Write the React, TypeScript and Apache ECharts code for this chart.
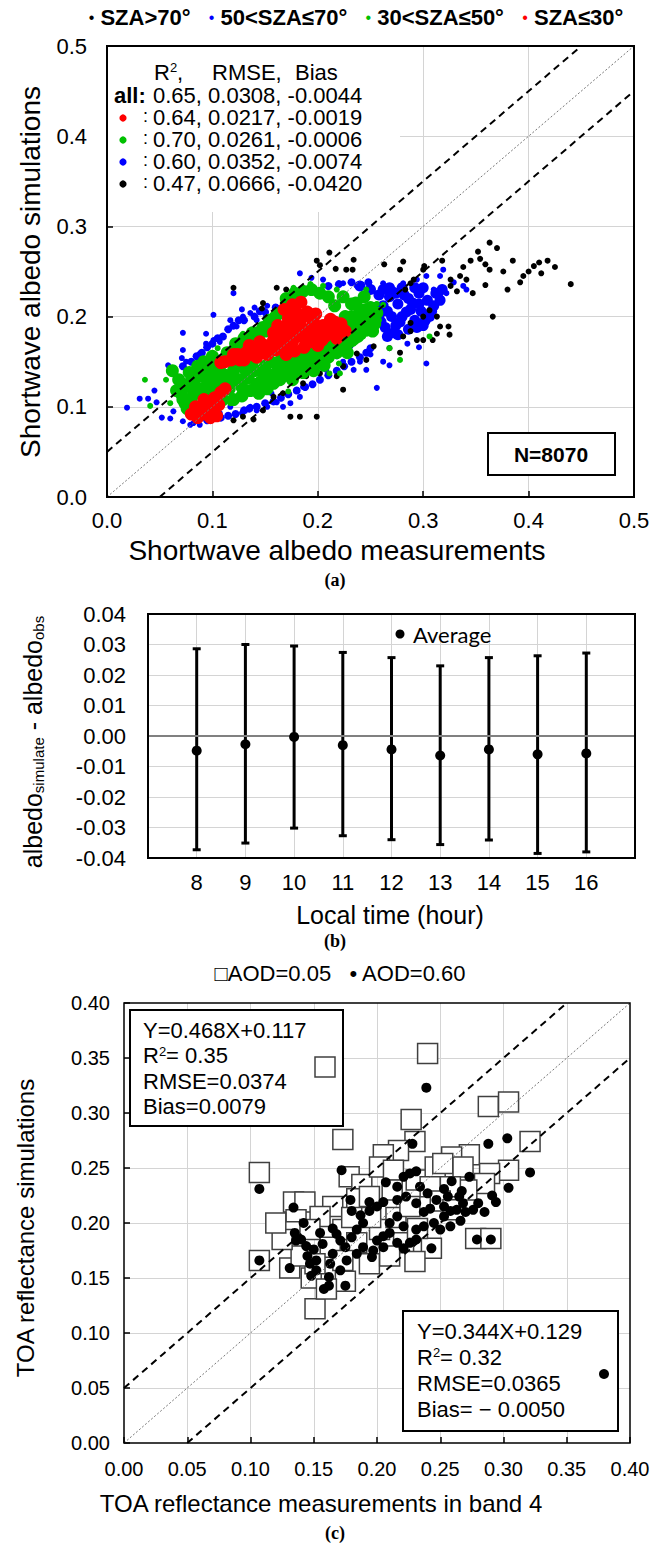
import React, { useEffect, useRef } from "react";
import * as echarts from "echarts";

const FONT = "'Liberation Sans', Arial, Helvetica, sans-serif";
const SERIF = "'Liberation Serif', 'Times New Roman', serif";

// ---------- Panel (a) data ----------
const oneToOneA = [[0, 0], [0.5, 0.5]];
const upperA = [[0, 0.05], [0.45, 0.5]];
const lowerA = [[0.05, 0], [0.5, 0.45]];

const blackA = [[0.120,0.232],[0.211,0.271],[0.199,0.262],[0.234,0.263],[0.202,0.257],[0.217,0.253],[0.227,0.252],[0.233,0.252],[0.263,0.258],[0.281,0.261],[0.278,0.252],[0.300,0.252],[0.301,0.256],[0.354,0.264],[0.363,0.282],[0.359,0.258],[0.363,0.252],[0.376,0.250],[0.326,0.241],[0.335,0.245],[0.341,0.241],[0.347,0.226],[0.326,0.234],[0.332,0.228],[0.359,0.235],[0.291,0.241],[0.288,0.237],[0.283,0.230],[0.366,0.200],[0.161,0.232],[0.170,0.230],[0.148,0.215],[0.147,0.209],[0.306,0.207],[0.313,0.200],[0.316,0.189],[0.324,0.189],[0.325,0.180],[0.300,0.200],[0.288,0.193],[0.281,0.178],[0.294,0.174],[0.300,0.174],[0.309,0.174],[0.313,0.181],[0.288,0.184],[0.278,0.160],[0.268,0.165],[0.253,0.167],[0.246,0.152],[0.237,0.159],[0.224,0.145],[0.218,0.134],[0.224,0.119],[0.202,0.137],[0.189,0.134],[0.180,0.137],[0.174,0.130],[0.186,0.126],[0.199,0.089],[0.183,0.089],[0.174,0.089],[0.148,0.096],[0.139,0.086],[0.129,0.089],[0.120,0.085],[0.158,0.111],[0.167,0.115],[0.370,0.276],[0.385,0.262],[0.395,0.245],[0.400,0.250],[0.405,0.256],[0.410,0.260],[0.412,0.248],[0.418,0.262],[0.425,0.255],[0.440,0.236],[0.392,0.238],[0.380,0.230],[0.352,0.272],[0.345,0.262],[0.338,0.255],[0.318,0.262]];

const blueOuterA = [[0.019,0.099],[0.031,0.109],[0.039,0.109],[0.047,0.105],[0.052,0.088],[0.060,0.087],[0.072,0.084],[0.079,0.080],[0.088,0.080],[0.098,0.084],[0.058,0.146],[0.071,0.154],[0.072,0.163],[0.075,0.150],[0.085,0.146],[0.093,0.150],[0.088,0.159],[0.094,0.170],[0.101,0.174],[0.107,0.172],[0.072,0.182],[0.094,0.181],[0.101,0.202],[0.117,0.196],[0.123,0.189],[0.129,0.200],[0.136,0.204],[0.142,0.196],[0.120,0.226],[0.151,0.200],[0.161,0.204],[0.174,0.211],[0.183,0.248],[0.194,0.243],[0.205,0.241],[0.211,0.234],[0.224,0.237],[0.237,0.234],[0.249,0.234],[0.262,0.237],[0.272,0.230],[0.281,0.237],[0.294,0.241],[0.303,0.245],[0.316,0.245],[0.319,0.252],[0.310,0.230],[0.316,0.223],[0.313,0.215],[0.338,0.234],[0.341,0.230],[0.231,0.167],[0.224,0.163],[0.218,0.156],[0.224,0.150],[0.234,0.141],[0.246,0.141],[0.256,0.121],[0.268,0.146],[0.303,0.148],[0.208,0.141],[0.205,0.152],[0.202,0.130],[0.186,0.122],[0.183,0.111],[0.174,0.104],[0.167,0.100],[0.161,0.105],[0.156,0.115],[0.152,0.100],[0.142,0.096],[0.136,0.100],[0.128,0.093],[0.117,0.100],[0.107,0.093],[0.082,0.082],[0.063,0.095],[0.045,0.118],[0.140,0.210],[0.152,0.212],[0.128,0.208],[0.329,0.238],[0.322,0.226],[0.296,0.166],[0.285,0.170],[0.262,0.150],[0.250,0.158],[0.240,0.150]];

const blueMidA = [[0.150,0.205],[0.140,0.200],[0.130,0.196],[0.120,0.190],[0.110,0.178],[0.100,0.170],[0.090,0.160],[0.080,0.150],[0.072,0.145],[0.095,0.085],[0.108,0.088],[0.122,0.092],[0.135,0.098],[0.150,0.104],[0.165,0.110],[0.180,0.118],[0.195,0.125],[0.210,0.135],[0.225,0.145],[0.240,0.155],[0.250,0.165],[0.248,0.238],[0.232,0.238],[0.220,0.236],[0.210,0.234],[0.160,0.210],[0.145,0.206],[0.125,0.196],[0.115,0.186],[0.105,0.176],[0.095,0.166],[0.085,0.156],[0.100,0.090],[0.115,0.090],[0.130,0.096],[0.142,0.100],[0.158,0.106],[0.172,0.114],[0.188,0.122],[0.202,0.130],[0.218,0.140],[0.232,0.150],[0.246,0.160]];

const blueCoreA = [[0.258,0.200],[0.262,0.212],[0.264,0.188],[0.268,0.222],[0.270,0.200],[0.272,0.182],[0.276,0.214],[0.278,0.194],[0.282,0.224],[0.284,0.205],[0.286,0.186],[0.290,0.215],[0.292,0.196],[0.296,0.226],[0.298,0.206],[0.300,0.190],[0.304,0.218],[0.306,0.200],[0.310,0.212],[0.312,0.226],[0.280,0.232],[0.268,0.232],[0.258,0.224],[0.250,0.230],[0.240,0.234],[0.254,0.210],[0.260,0.194],[0.266,0.206],[0.274,0.190],[0.280,0.200],[0.288,0.208],[0.294,0.188],[0.302,0.196],[0.308,0.206],[0.300,0.232],[0.292,0.232],[0.274,0.226],[0.262,0.230],[0.286,0.220],[0.296,0.214],[0.276,0.180],[0.266,0.178],[0.316,0.218],[0.318,0.230]];

const greenOuterA = [[0.036,0.130],[0.041,0.101],[0.056,0.130],[0.060,0.104],[0.079,0.093],[0.091,0.096],[0.105,0.165],[0.123,0.163],[0.129,0.181],[0.142,0.186],[0.167,0.215],[0.177,0.232],[0.193,0.236],[0.205,0.234],[0.218,0.230],[0.246,0.230],[0.256,0.214],[0.262,0.213],[0.258,0.196],[0.253,0.185],[0.243,0.178],[0.234,0.170],[0.268,0.165],[0.278,0.152],[0.306,0.178],[0.221,0.137],[0.211,0.137],[0.189,0.145],[0.172,0.117],[0.164,0.130],[0.154,0.122],[0.145,0.115],[0.117,0.104],[0.104,0.100],[0.220,0.148]];

const greenCoreA = [[0.062,0.140],[0.068,0.130],[0.066,0.118],[0.072,0.108],[0.074,0.122],[0.078,0.138],[0.082,0.128],[0.082,0.114],[0.076,0.098],[0.086,0.145],[0.090,0.134],[0.094,0.122],[0.098,0.140],[0.104,0.130],[0.108,0.138],[0.110,0.128],[0.116,0.120],[0.114,0.160],[0.120,0.140],[0.122,0.170],[0.126,0.130],[0.130,0.176],[0.132,0.140],[0.136,0.118],[0.138,0.182],[0.140,0.140],[0.146,0.128],[0.148,0.188],[0.150,0.145],[0.154,0.196],[0.156,0.135],[0.160,0.148],[0.162,0.203],[0.164,0.130],[0.168,0.145],[0.170,0.220],[0.172,0.140],[0.178,0.226],[0.180,0.148],[0.186,0.228],[0.188,0.150],[0.194,0.230],[0.196,0.155],[0.202,0.226],[0.204,0.160],[0.210,0.222],[0.212,0.163],[0.216,0.212],[0.220,0.168],[0.224,0.222],[0.230,0.172],[0.232,0.214],[0.236,0.200],[0.240,0.190],[0.238,0.178],[0.244,0.222],[0.246,0.208],[0.250,0.196],[0.252,0.184],[0.256,0.204],[0.232,0.200],[0.228,0.160],[0.206,0.146],[0.196,0.140],[0.186,0.138],[0.176,0.130],[0.100,0.118],[0.110,0.108],[0.120,0.108],[0.128,0.112],[0.144,0.115],[0.152,0.120],[0.092,0.150],[0.100,0.156],[0.105,0.120],[0.112,0.135],[0.118,0.128],[0.124,0.145],[0.128,0.122],[0.134,0.132],[0.138,0.150],[0.142,0.125],[0.146,0.140],[0.152,0.132],[0.155,0.150],[0.158,0.126],[0.162,0.140],[0.166,0.155],[0.170,0.135],[0.174,0.150],[0.178,0.140],[0.182,0.155],[0.186,0.145],[0.190,0.160],[0.194,0.148],[0.198,0.162],[0.202,0.152],[0.206,0.165],[0.210,0.155],[0.214,0.170],[0.218,0.160],[0.222,0.178],[0.226,0.168],[0.230,0.182],[0.234,0.175],[0.238,0.188],[0.242,0.198],[0.246,0.185],[0.250,0.210],[0.254,0.192],[0.226,0.200],[0.230,0.192],[0.236,0.215],[0.240,0.208],[0.160,0.200],[0.156,0.190],[0.150,0.184],[0.144,0.180],[0.138,0.175],[0.130,0.170],[0.124,0.165],[0.116,0.155],[0.110,0.150],[0.104,0.145],[0.096,0.148],[0.088,0.140],[0.084,0.132],[0.078,0.126],[0.070,0.115],[0.074,0.104],[0.088,0.120],[0.092,0.112],[0.096,0.128],[0.080,0.108]];

const redCoreA = [[0.108,0.149],[0.118,0.152],[0.124,0.158],[0.132,0.160],[0.130,0.152],[0.140,0.163],[0.142,0.155],[0.150,0.168],[0.152,0.158],[0.158,0.174],[0.160,0.163],[0.165,0.180],[0.168,0.168],[0.170,0.158],[0.175,0.186],[0.176,0.172],[0.178,0.162],[0.183,0.192],[0.184,0.178],[0.187,0.166],[0.190,0.185],[0.192,0.172],[0.196,0.194],[0.198,0.180],[0.200,0.168],[0.205,0.190],[0.207,0.178],[0.212,0.197],[0.214,0.186],[0.218,0.176],[0.222,0.192],[0.226,0.184],[0.168,0.208],[0.176,0.213],[0.184,0.216],[0.180,0.204],[0.172,0.198],[0.162,0.190],[0.190,0.205],[0.198,0.203],[0.145,0.172],[0.135,0.168],[0.112,0.150],[0.120,0.158],[0.126,0.152],[0.136,0.158],[0.146,0.162],[0.155,0.166],[0.164,0.172],[0.172,0.178],[0.180,0.184],[0.188,0.176],[0.194,0.188],[0.202,0.184],[0.210,0.190],[0.216,0.194],[0.220,0.184],[0.180,0.195],[0.170,0.190],[0.186,0.200],[0.194,0.198],[0.174,0.206],[0.196,0.174],[0.204,0.174],[0.158,0.182],[0.080,0.092],[0.086,0.088],[0.088,0.098],[0.094,0.092],[0.096,0.104],[0.100,0.096],[0.102,0.110],[0.106,0.102],[0.108,0.116],[0.112,0.120],[0.092,0.108],[0.098,0.088],[0.084,0.100],[0.104,0.090]];

// ---------- Panel (b) data ----------
const hoursB = [8, 9, 10, 11, 12, 13, 14, 15, 16];
const meanB = [-0.0048, -0.0027, -0.0003, -0.0030, -0.0044, -0.0064, -0.0044, -0.0060, -0.0057];
const upperB = [0.0286, 0.0300, 0.0295, 0.0274, 0.0257, 0.0230, 0.0257, 0.0263, 0.0272];
const lowerB = [-0.0373, -0.0351, -0.0302, -0.0327, -0.0340, -0.0356, -0.0341, -0.0385, -0.0380];

// ---------- Panel (c) data ----------
const oneToOneC = [[0, 0], [0.4, 0.4]];
const upperC = [[0, 0.05], [0.35, 0.4]];
const lowerC = [[0.05, 0], [0.4, 0.35]];

const aod005 = [[0.240,0.354],[0.288,0.306],[0.304,0.310],[0.227,0.294],[0.173,0.276],[0.321,0.274],[0.107,0.246],[0.230,0.274],[0.217,0.266],[0.205,0.262],[0.273,0.262],[0.259,0.260],[0.178,0.242],[0.188,0.235],[0.202,0.251],[0.213,0.248],[0.231,0.239],[0.246,0.251],[0.252,0.254],[0.268,0.251],[0.304,0.248],[0.289,0.245],[0.285,0.236],[0.271,0.230],[0.258,0.233],[0.242,0.233],[0.134,0.219],[0.143,0.219],[0.165,0.215],[0.155,0.206],[0.136,0.203],[0.135,0.192],[0.147,0.194],[0.184,0.222],[0.194,0.224],[0.202,0.194],[0.173,0.194],[0.184,0.182],[0.163,0.178],[0.173,0.166],[0.194,0.163],[0.243,0.177],[0.278,0.186],[0.290,0.186],[0.107,0.166],[0.131,0.159],[0.148,0.150],[0.175,0.147],[0.151,0.163],[0.221,0.182],[0.151,0.122],[0.160,0.140],[0.140,0.170],[0.215,0.205],[0.226,0.215],[0.250,0.220],[0.260,0.212],[0.212,0.230],[0.195,0.205],[0.180,0.205],[0.125,0.185],[0.120,0.200],[0.232,0.195],[0.210,0.170],[0.230,0.165]];

const aod060 = [[0.239,0.323],[0.288,0.272],[0.303,0.277],[0.321,0.246],[0.228,0.272],[0.107,0.231],[0.172,0.248],[0.304,0.232],[0.273,0.242],[0.259,0.238],[0.253,0.231],[0.267,0.229],[0.291,0.225],[0.294,0.219],[0.285,0.210],[0.266,0.202],[0.243,0.177],[0.279,0.185],[0.290,0.185],[0.134,0.214],[0.142,0.200],[0.107,0.166],[0.131,0.159],[0.148,0.152],[0.162,0.151],[0.175,0.143],[0.162,0.143],[0.155,0.191],[0.135,0.191],[0.136,0.184],[0.144,0.179],[0.150,0.176],[0.157,0.181],[0.165,0.195],[0.171,0.184],[0.180,0.187],[0.184,0.194],[0.189,0.200],[0.179,0.221],[0.180,0.211],[0.187,0.207],[0.194,0.219],[0.200,0.215],[0.205,0.219],[0.207,0.237],[0.216,0.233],[0.221,0.242],[0.226,0.245],[0.231,0.247],[0.223,0.224],[0.231,0.218],[0.237,0.210],[0.242,0.213],[0.247,0.221],[0.253,0.215],[0.258,0.211],[0.263,0.212],[0.270,0.210],[0.245,0.200],[0.237,0.197],[0.231,0.194],[0.221,0.197],[0.216,0.206],[0.210,0.200],[0.205,0.188],[0.200,0.184],[0.197,0.175],[0.205,0.178],[0.210,0.191],[0.216,0.182],[0.221,0.177],[0.226,0.182],[0.231,0.185],[0.196,0.169],[0.189,0.178],[0.184,0.172],[0.176,0.166],[0.165,0.172],[0.152,0.166],[0.147,0.163],[0.163,0.163],[0.171,0.157],[0.152,0.157],[0.194,0.211],[0.216,0.221],[0.253,0.206],[0.258,0.197],[0.250,0.194],[0.256,0.224],[0.268,0.218],[0.276,0.212],[0.280,0.218],[0.265,0.224],[0.240,0.227],[0.234,0.233],[0.140,0.185],[0.168,0.190],[0.175,0.178],[0.158,0.140],[0.145,0.170]];

// ---------- text content ----------
const legendA = ["SZA>70°", "50<SZA≤70°", "30<SZA≤50°", "SZA≤30°"];
const statsRows = ["0.65, 0.0308, -0.0044", "0.64, 0.0217, -0.0019", "0.70, 0.0261, -0.0006", "0.60, 0.0352, -0.0074", "0.47, 0.0666, -0.0420"];
const statsColors = ["#ff0000", "#00c000", "#0000ff", "#000000"];
const box1Lines = ["Y=0.468X+0.117", "R{s|2}= 0.35", "RMSE=0.0374", "Bias=0.0079"];
const box2Lines = ["Y=0.344X+0.129", "R{s|2}= 0.32", "RMSE=0.0365", "Bias= − 0.0050"];

const SPLIT = { show: true, lineStyle: { color: "#d4d4d4", width: 1 }, showMinLine: false, showMaxLine: false };

function axis(gridIndex: number, min: number, max: number, interval: number, fmt: (v: number) => string, fontSize: number, margin: number, ticks: boolean, fontFamily = FONT) {
  return {
    type: "value", gridIndex, min, max, interval,
    axisLine: { show: false },
    axisTick: { show: ticks, inside: true, length: 6, lineStyle: { color: "#000", width: 1.5 } },
    axisLabel: { formatter: fmt, fontSize, margin, color: "#000", fontFamily, showMinLabel: true, showMaxLabel: true },
    splitLine: SPLIT,
  };
}

const txt = (x: number, y: number, text: string, opt: any = {}) => ({
  type: "text", x, y, z: 110, silent: true, rotation: opt.rotation || 0,
  style: {
    text, fill: opt.fill || "#000", fontSize: opt.fontSize || 22, fontFamily: opt.fontFamily || FONT,
    fontWeight: opt.fontWeight || "normal", align: opt.align || "left", verticalAlign: "middle", rich: opt.rich,
    lineHeight: opt.lineHeight || (opt.fontSize || 22),
  },
});

export default function App() {
  const ref = useRef<HTMLDivElement>(null);
  useEffect(() => {
    document.body.style.margin = "0";
    if (!ref.current) return;
    const chart = echarts.init(ref.current, null, { renderer: "svg" });
    const f1 = (v: number) => v.toFixed(1);
    const f2 = (v: number) => (Math.abs(v) < 1e-9 ? "0.00" : v.toFixed(2));
    const scatter = (xi: number, data: number[][], color: string, size: number, z = 2, extra: any = {}) => ({
      type: "scatter", xAxisIndex: xi, yAxisIndex: xi, data, symbolSize: size, silent: true, z,
      itemStyle: { color, opacity: 1 }, ...extra,
    });
    const refLine = (xi: number, data: number[][], dotted: boolean) => ({
      type: "line", xAxisIndex: xi, yAxisIndex: xi, data, symbol: "none", silent: true, z: 8,
      lineStyle: dotted ? { color: "#777", width: 1, type: [2, 2] } : { color: "#000", width: 2, type: [7, 5] },
    });

    const graphic: any[] = [];
    // frames
    graphic.push({ type: "rect", z: 105, silent: true, shape: { x: 107, y: 46, width: 527, height: 451 }, style: { fill: "none", stroke: "#000", lineWidth: 2 } });
    graphic.push({ type: "rect", z: 105, silent: true, shape: { x: 148, y: 614, width: 487, height: 244 }, style: { fill: "none", stroke: "#000", lineWidth: 2 } });
    graphic.push({ type: "rect", z: 105, silent: true, shape: { x: 124, y: 1003, width: 506, height: 440 }, style: { fill: "none", stroke: "#000", lineWidth: 1.5 } });

    // Panel (a) legend
    graphic.push(txt(356, 17, `{k|•} ${legendA[0]}   {b|•} ${legendA[1]}   {g|•} ${legendA[2]}   {r|•} ${legendA[3]}`, {
      align: "center", fontWeight: "bold", fontSize: 22,
      rich: {
        k: { fill: "#000", fontSize: 16, verticalAlign: "middle" },
        b: { fill: "#0000ff", fontSize: 16, verticalAlign: "middle" },
        g: { fill: "#00c000", fontSize: 16, verticalAlign: "middle" },
        r: { fill: "#ff0000", fontSize: 16, verticalAlign: "middle" },
      },
    }));
    // stats area
    graphic.push({ type: "rect", z: 1, silent: true, shape: { x: 108, y: 47, width: 292, height: 165 }, style: { fill: "#fff" } });
    const sup = { s: { fontSize: 13, verticalAlign: "top", fill: "#000", lineHeight: 22 } };
    graphic.push(txt(154, 72, "R{s|2},", { rich: sup }));
    graphic.push(txt(212, 72, "RMSE,"));
    graphic.push(txt(295, 72, "Bias"));
    const rowY = [95, 117, 139, 161, 183];
    graphic.push(txt(114, rowY[0], "all:", { fontWeight: "bold" }));
    statsRows.forEach((r, i) => {
      graphic.push(txt(153, rowY[i], r));
      if (i > 0) {
        graphic.push({ type: "circle", z: 110, silent: true, shape: { cx: 123, cy: rowY[i] + 1, r: 3.6 }, style: { fill: statsColors[i - 1] } });
        graphic.push(txt(143, rowY[i] - 1, ":", { fontSize: 18 }));
      }
    });
    // N box
    graphic.push({ type: "rect", z: 106, silent: true, shape: { x: 488, y: 433, width: 127, height: 42 }, style: { fill: "#fff", stroke: "#000", lineWidth: 2 } });
    graphic.push(txt(551, 454, "N=8070", { align: "center", fontWeight: "bold", fontSize: 21 }));
    // axis names (a)
    graphic.push(txt(30, 272, "Shortwave albedo simulations", { align: "center", fontSize: 28, rotation: Math.PI / 2 }));
    graphic.push(txt(337, 550, "Shortwave albedo measurements", { align: "center", fontSize: 28 }));
    graphic.push(txt(335, 580, "(a)", { align: "center", fontSize: 18, fontWeight: "bold", fontFamily: SERIF }));

    // Panel (b)
    graphic.push({ type: "circle", z: 110, silent: true, shape: { cx: 400, cy: 634, r: 4.5 }, style: { fill: "#000" } });
    graphic.push(txt(413, 634, "Average", { fontSize: 22, fontFamily: "Lato, 'Open Sans', sans-serif" }));
    graphic.push(txt(33, 742, "albedo{s|simulate} - albedo{s|obs}", {
      align: "center", fontSize: 25, rotation: Math.PI / 2,
      rich: { s: { fontSize: 15, verticalAlign: "bottom", fill: "#000" } },
    }));
    graphic.push(txt(390, 915, "Local time (hour)", { align: "center", fontSize: 25 }));
    graphic.push(txt(335, 941, "(b)", { align: "center", fontSize: 18, fontWeight: "bold", fontFamily: SERIF }));

    // Panel (c)
    graphic.push(txt(340, 973, "□AOD=0.05   • AOD=0.60", { align: "center", fontSize: 22 }));
    graphic.push({ type: "rect", z: 106, silent: true, shape: { x: 130, y: 1010, width: 213, height: 116 }, style: { fill: "#fff", stroke: "#000", lineWidth: 2 } });
    box1Lines.forEach((l, i) => graphic.push(txt(143, 1030 + i * 25.5, l, { rich: sup })));
    graphic.push({ type: "rect", z: 110, silent: true, shape: { x: 315, y: 1057, width: 20, height: 20 }, style: { fill: "#fff", stroke: "#404040", lineWidth: 1.5 } });
    graphic.push({ type: "rect", z: 106, silent: true, shape: { x: 403, y: 1311, width: 215, height: 120 }, style: { fill: "#fff", stroke: "#000", lineWidth: 2 } });
    box2Lines.forEach((l, i) => graphic.push(txt(417, 1331 + i * 26, l, { rich: sup })));
    graphic.push({ type: "circle", z: 110, silent: true, shape: { cx: 604, cy: 1374, r: 5 }, style: { fill: "#000" } });
    graphic.push(txt(25, 1228, "TOA reflectance simulations", { align: "center", fontSize: 24, rotation: Math.PI / 2 }));
    graphic.push(txt(321, 1503, "TOA reflectance measurements in band 4", { align: "center", fontSize: 24 }));
    graphic.push(txt(335, 1533, "(c)", { align: "center", fontSize: 18, fontWeight: "bold", fontFamily: SERIF }));

    const option: any = {
      animation: false,
      textStyle: { fontFamily: FONT },
      grid: [
        { left: 107, top: 46, width: 527, height: 451 },
        { left: 148, top: 614, width: 487, height: 244 },
        { left: 124, top: 1003, width: 506, height: 440 },
      ],
      xAxis: [
        axis(0, 0, 0.5, 0.1, f1, 22, 12, true),
        { ...axis(1, 7, 17, 1, (v: number) => (v >= 8 && v <= 16 ? String(v) : ""), 22, 13, false) },
        axis(2, 0, 0.4, 0.05, f2, 20, 16, true),
      ],
      yAxis: [
        axis(0, 0, 0.5, 0.1, f1, 22, 20, true),
        axis(1, -0.04, 0.04, 0.01, f2, 22, 22, false),
        axis(2, 0, 0.4, 0.05, f2, 20, 14, true),
      ],
      series: [
        scatter(0, blueOuterA, "#0000ff", 6),
        scatter(0, blueMidA, "#0000ff", 8),
        scatter(0, blueCoreA, "#0000ff", 11),
        scatter(0, blackA, "#000000", 6, 3),
        scatter(0, greenOuterA, "#00c000", 6, 4),
        scatter(0, greenCoreA, "#00c000", 13, 4),
        scatter(0, redCoreA, "#ff0000", 13, 5),
        refLine(0, oneToOneA, true),
        refLine(0, upperA, false),
        refLine(0, lowerA, false),
        {
          type: "custom", xAxisIndex: 1, yAxisIndex: 1, silent: true, z: 4,
          data: hoursB.map((h, i) => [h, lowerB[i], upperB[i]]),
          encode: { x: 0, y: [1, 2] },
          renderItem: (params: any, api: any) => {
            const x = api.value(0);
            const lo = api.coord([x, api.value(1)]);
            const hi = api.coord([x, api.value(2)]);
            const st = { stroke: "#000", lineWidth: 3 };
            return {
              type: "group",
              children: [
                { type: "line", shape: { x1: lo[0], y1: lo[1], x2: hi[0], y2: hi[1] }, style: st },
                { type: "line", shape: { x1: lo[0] - 4, y1: lo[1], x2: lo[0] + 4, y2: lo[1] }, style: st },
                { type: "line", shape: { x1: hi[0] - 4, y1: hi[1], x2: hi[0] + 4, y2: hi[1] }, style: st },
              ],
            };
          },
          markLine: {
            silent: true, symbol: "none", label: { show: false },
            lineStyle: { color: "#808080", width: 2, type: "solid" },
            data: [{ yAxis: 0 }],
          },
        },
        scatter(1, hoursB.map((h, i) => [h, meanB[i]]), "#000", 10, 6),
        scatter(2, aod005, "#ffffff", 20, 3, { symbol: "rect", itemStyle: { color: "#fff", borderColor: "#404040", borderWidth: 1.5, opacity: 1 } }),
        scatter(2, aod060, "#000", 10, 4),
        refLine(2, oneToOneC, true),
        refLine(2, upperC, false),
        refLine(2, lowerC, false),
      ],
      graphic,
    };
    chart.setOption(option);
    return () => chart.dispose();
  }, []);
  return <div ref={ref} style={{ width: 662, height: 1549 }} />;
}
